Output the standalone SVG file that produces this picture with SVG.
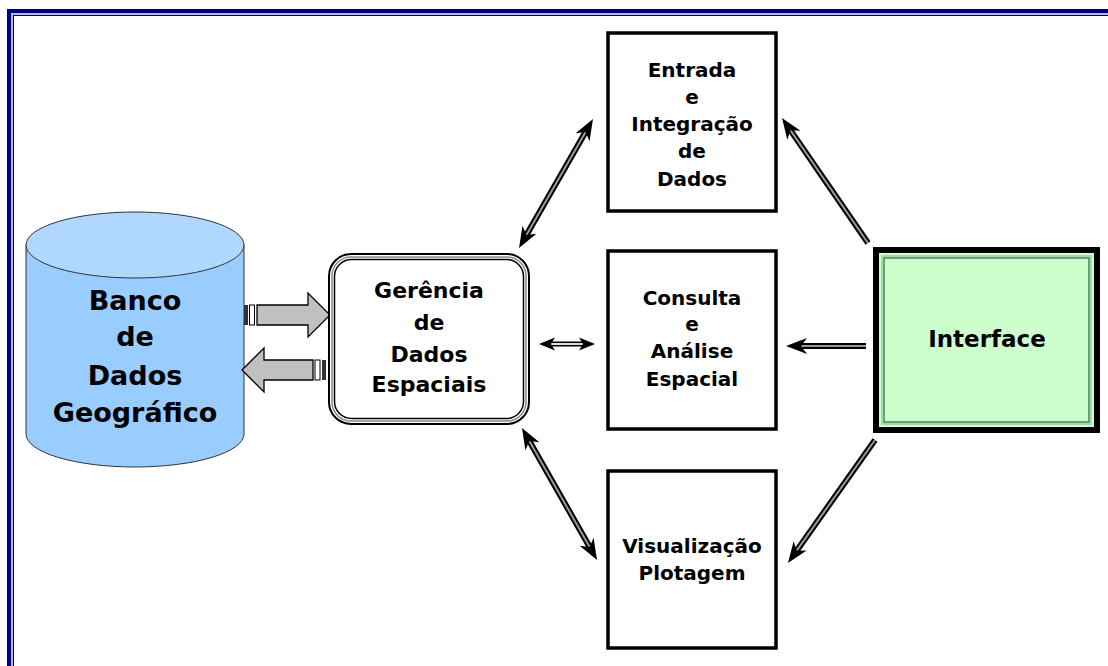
<svg xmlns="http://www.w3.org/2000/svg" width="1108" height="666" viewBox="0 0 1108 666">
<defs>
<style>
.t{font-family:"DejaVu Sans","Verdana",sans-serif;font-weight:bold;fill:#000;text-anchor:middle}
.box{fill:#fff;stroke:#000;stroke-width:3.5}
.lb{fill:none;stroke:#000;stroke-width:6}
.lg{fill:none;stroke:#999;stroke-width:2}
.lm{fill:none;stroke:none}
.blk{fill:#c0c0c0;stroke:#000;stroke-width:1.3}
</style>
<marker id="ah" viewBox="-22 -10 24 20" refX="0" refY="0" markerWidth="24" markerHeight="20" markerUnits="userSpaceOnUse" orient="auto-start-reverse">
<path d="M0,0 L-21,-8 L-15,0 L-21,8 Z" fill="#000"/>
</marker>
<marker id="ahs" viewBox="-18 -8 20 16" refX="0" refY="0" markerWidth="20" markerHeight="16" markerUnits="userSpaceOnUse" orient="auto-start-reverse">
<path d="M0,0 L-16,-6.5 L-12,0 L-16,6.5 Z" fill="#000"/>
</marker>
</defs>
<rect width="1108" height="666" fill="#fff"/>
<g id="frame">
<rect x="9" y="11" width="1200" height="800" fill="none" stroke="#00008b" stroke-width="4"/>
<rect x="12" y="14" width="1200" height="800" fill="none" stroke="#a0a0d8" stroke-width="1.5"/>
<rect x="13.5" y="15.5" width="1200" height="800" fill="none" stroke="#00008b" stroke-width="1"/>
</g>
<g id="banco">
<path d="M26,245 L26,434 A109,33 0 0 0 244,434 L244,245 Z" fill="#99ccff" stroke="#333" stroke-width="1"/>
<ellipse cx="135" cy="245" rx="109" ry="33" fill="#b0d8ff" stroke="#333" stroke-width="1"/>
<text class="t" x="135" y="310" font-size="27">Banco</text>
<text class="t" x="135" y="346" font-size="27">de</text>
<text class="t" x="135" y="385" font-size="27">Dados</text>
<text class="t" x="135" y="422" font-size="27">Geográfico</text>
</g>
<g id="block-arrows">
<rect x="244" y="305" width="4" height="20" fill="#333"/>
<rect x="249.5" y="305" width="5" height="20" fill="#fff" stroke="#000" stroke-width="1"/>
<path class="blk" d="M257,305 L308,305 L308,293 L330,315 L308,337 L308,325 L257,325 Z"/>
<rect x="322" y="360" width="4" height="20" fill="#333"/>
<rect x="315" y="360" width="5" height="20" fill="#fff" stroke="#000" stroke-width="1"/>
<path class="blk" d="M313,360 L264,360 L264,348 L242,370 L264,392 L264,380 L313,380 Z"/>
</g>
<g id="gerencia">
<rect x="329" y="254" width="200" height="170" rx="22" fill="#fff" stroke="#000" stroke-width="2"/>
<rect x="332" y="257" width="194" height="164" rx="19" fill="none" stroke="#888" stroke-width="1.5"/>
<rect x="334.5" y="259.5" width="189" height="159" rx="17" fill="none" stroke="#000" stroke-width="1.5"/>
<text class="t" x="429" y="298" font-size="22">Gerência</text>
<text class="t" x="429" y="330" font-size="22">de</text>
<text class="t" x="429" y="362" font-size="22">Dados</text>
<text class="t" x="429" y="392" font-size="22">Espaciais</text>
</g>
<g id="entrada">
<rect class="box" x="608" y="33" width="168" height="178"/>
<text class="t" x="692" y="77" font-size="20">Entrada</text>
<text class="t" x="692" y="104" font-size="20">e</text>
<text class="t" x="692" y="131" font-size="20">Integração</text>
<text class="t" x="692" y="158" font-size="20">de</text>
<text class="t" x="692" y="186" font-size="20">Dados</text>
</g>
<g id="consulta">
<rect class="box" x="608" y="251" width="168" height="178"/>
<text class="t" x="692" y="305" font-size="20">Consulta</text>
<text class="t" x="692" y="331" font-size="20">e</text>
<text class="t" x="692" y="358" font-size="20">Análise</text>
<text class="t" x="692" y="386" font-size="20">Espacial</text>
</g>
<g id="visualizacao">
<rect class="box" x="608" y="471" width="168" height="177"/>
<text class="t" x="692" y="553" font-size="20">Visualização</text>
<text class="t" x="692" y="580" font-size="20">Plotagem</text>
</g>
<g id="interface">
<rect x="876" y="250" width="221" height="180" fill="#ccffcc" stroke="#000" stroke-width="6"/>
<rect x="882" y="256" width="209" height="168" fill="none" stroke="#9c9" stroke-width="1.5"/>
<rect x="884" y="258" width="205" height="164" fill="none" stroke="#264" stroke-width="1.2"/>
<text class="t" x="987" y="347" font-size="23">Interface</text>
</g>
<g id="connectors">
<path class="lb" d="M525,237.6 L587,129.4"/>
<path class="lg" d="M525,237.6 L587,129.4"/>
<path class="lm" d="M519,248 L593,119" marker-start="url(#ah)" marker-end="url(#ah)"/>
<path class="lb" d="M549,344 L585,344" style="stroke-width:5"/>
<path class="lg" d="M549,344 L585,344" style="stroke:#ddd;stroke-width:2"/>
<path class="lm" d="M539,344 L595,344" marker-start="url(#ahs)" marker-end="url(#ahs)"/>
<path class="lb" d="M527.9,438.4 L591.1,549.6"/>
<path class="lg" d="M527.9,438.4 L591.1,549.6"/>
<path class="lm" d="M522,428 L597,560" marker-start="url(#ah)" marker-end="url(#ah)"/>
<path class="lb" d="M868,243 L788.8,127.9"/>
<path class="lg" d="M868,243 L788.8,127.9"/>
<path class="lm" d="M868,243 L782,118" marker-end="url(#ah)"/>
<path class="lb" d="M866,346 L798,346"/>
<path class="lg" d="M866,346 L798,346"/>
<path class="lm" d="M866,346 L786,346" marker-end="url(#ah)"/>
<path class="lb" d="M875,440 L794.9,553.2"/>
<path class="lg" d="M875,440 L794.9,553.2"/>
<path class="lm" d="M875,440 L788,563" marker-end="url(#ah)"/>
</g>
</svg>
